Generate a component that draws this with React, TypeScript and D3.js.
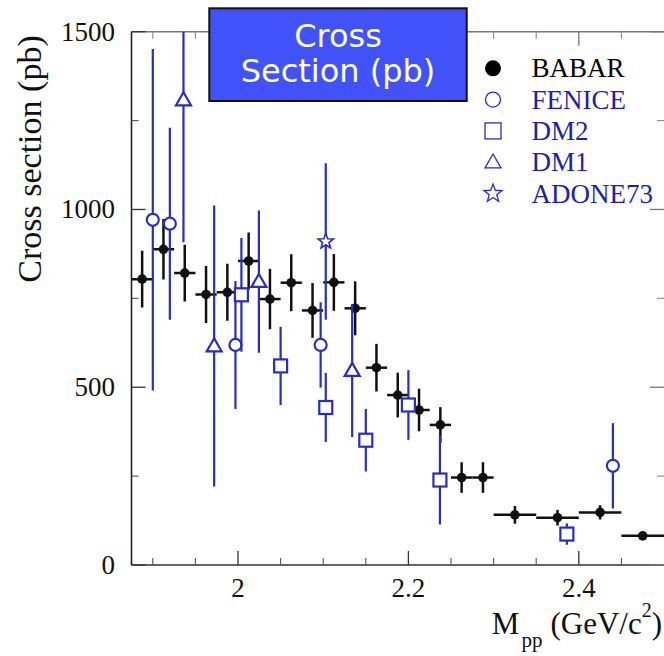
import React from "react";
import * as d3 from "d3";

// ---- data ----
const BABAR_X = [1.8875, 1.9125, 1.9375, 1.9625, 1.9875, 2.0125, 2.0375, 2.0625, 2.0875, 2.1125, 2.1375, 2.1625, 2.1875, 2.2125, 2.2375, 2.2625, 2.2875, 2.325, 2.375, 2.425, 2.475];
const BABAR_Y = [804, 888, 821, 761, 767, 855, 748, 794, 716, 795, 722, 555, 478, 436, 394, 246, 246, 141, 133, 148, 82];
const BABAR_ERR = [80, 85, 80, 80, 80, 80, 85, 80, 77, 80, 76, 67, 63, 60, 50, 43, 43, 25, 22, 20, 8];
const BABAR_XERR = [0.0125, 0.0125, 0.0125, 0.0125, 0.0125, 0.0125, 0.0125, 0.0125, 0.0125, 0.0125, 0.0125, 0.0125, 0.0125, 0.0125, 0.0125, 0.0125, 0.0125, 0.025, 0.025, 0.025, 0.025];

const FENICE_X = [1.9, 1.92, 1.997, 2.097, 2.44];
const FENICE_Y = [971, 960, 619, 619, 279];
const FENICE_ERR = [480, 270, 180, 120, 120];

const DM2_X = [2.004, 2.05, 2.103, 2.15, 2.2, 2.237, 2.386];
const DM2_Y = [760, 560, 443, 351, 450, 239, 87];
const DM2_ERR = [160, 110, 97, 88, 98, 125, 30];

const DM1_X = [1.936, 1.972, 2.0245, 2.134];
const DM1_Y = [1308, 616, 797, 547];
const DM1_ERR = [400, 395, 200, 187];

const ADONE_X = [2.103];
const ADONE_Y = [910];
const ADONE_ERR = [220];

const LEGEND_LABELS = ["BABAR", "FENICE", "DM2", "DM1", "ADONE73"];

const X_MAJOR = [2, 2.2, 2.4];
const X_MAJOR_LABELS = ["2", "2.2", "2.4"];
const X_MINOR = [1.9, 1.95, 2.05, 2.1, 2.15, 2.25, 2.3, 2.35, 2.45];
const Y_MAJOR = [0, 500, 1000, 1500];
const Y_MAJOR_LABELS = ["0", "500", "1000", "1500"];
const Y_MINOR = [250, 750, 1250];

const BLUE = "#2b2bc6";
const BLUE_TEXT = "#1f1fae";
const SERIF = "'Liberation Serif', 'Times New Roman', serif";

function starPath(cx: number, cy: number, ro: number) {
  const ri = ro * 0.42;
  const pts: string[] = [];
  for (let i = 0; i < 10; i++) {
    const r = i % 2 === 0 ? ro : ri;
    const a = -Math.PI / 2 + (i * Math.PI) / 5;
    pts.push(`${cx + r * Math.cos(a)},${cy + r * Math.sin(a)}`);
  }
  return "M" + pts.join("L") + "Z";
}

function triPath(cx: number, cy: number, side: number) {
  const h = (side * Math.sqrt(3)) / 2;
  return `M${cx},${cy - (2 * h) / 3}L${cx + side / 2},${cy + h / 3}L${cx - side / 2},${cy + h / 3}Z`;
}

type Shape = "circle" | "square" | "triangle" | "star";

function Marker({ shape, cx, cy, size, stroke, sw }: { shape: Shape; cx: number; cy: number; size: number; stroke: string; sw: number }) {
  if (shape === "circle") return <circle cx={cx} cy={cy} r={size / 2} fill="white" stroke={stroke} strokeWidth={sw} />;
  if (shape === "square") return <rect x={cx - size / 2} y={cy - size / 2} width={size} height={size} fill="white" stroke={stroke} strokeWidth={sw} />;
  if (shape === "triangle") return <path d={triPath(cx, cy + 1, size)} fill="white" stroke={stroke} strokeWidth={sw} />;
  return <path d={starPath(cx, cy, size / 2)} fill="white" stroke={stroke} strokeWidth={sw} />;
}

export default function App() {
  const W = 664;
  const H = 656;
  const L = 131.5, R = 664, T = 31.7, B = 565;
  const x = d3.scaleLinear().domain([1.875, 2.5]).range([L, R]);
  const y = d3.scaleLinear().domain([0, 1500]).range([B, T]);

  const blueSeries: { xs: number[]; ys: number[]; es: number[]; shape: Shape; size: number }[] = [
    { xs: FENICE_X, ys: FENICE_Y, es: FENICE_ERR, shape: "circle", size: 12 },
    { xs: DM2_X, ys: DM2_Y, es: DM2_ERR, shape: "square", size: 13 },
    { xs: DM1_X, ys: DM1_Y, es: DM1_ERR, shape: "triangle", size: 15 },
    { xs: ADONE_X, ys: ADONE_Y, es: ADONE_ERR, shape: "star", size: 16 },
  ];

  const legendShapes: (Shape | "dot")[] = ["dot", "circle", "square", "triangle", "star"];
  const legendY = [68.3, 99.6, 130.9, 162.2, 193.5];

  return (
    <svg width={W} height={H} style={{ position: "absolute", left: 0, top: 0, background: "white" }}>
      <defs>
        <clipPath id="plotclip">
          <rect x={L} y={T} width={R - L} height={B - T} />
        </clipPath>
      </defs>
      <rect x={0} y={0} width={W} height={H} fill="white" />

      {/* frame */}
      <line x1={L} y1={T} x2={L} y2={B} stroke="#222" strokeWidth={1.6} />
      <line x1={L} y1={B} x2={R} y2={B} stroke="#333" strokeWidth={1.6} />
      <line x1={L} y1={T} x2={R} y2={T} stroke="#777" strokeWidth={1.6} />

      {/* x ticks bottom & top */}
      {X_MAJOR.map((v) => (
        <g key={"xm" + v}>
          <line x1={x(v)} x2={x(v)} y1={B} y2={B - 14} stroke="#333" strokeWidth={1.3} />
          <line x1={x(v)} x2={x(v)} y1={T} y2={T + 14} stroke="#777" strokeWidth={1.3} />
        </g>
      ))}
      {X_MINOR.map((v) => (
        <g key={"xn" + v}>
          <line x1={x(v)} x2={x(v)} y1={B} y2={B - 7} stroke="#555" strokeWidth={1.1} />
          <line x1={x(v)} x2={x(v)} y1={T} y2={T + 7} stroke="#888" strokeWidth={1.1} />
        </g>
      ))}
      {/* y ticks left & right */}
      {Y_MAJOR.map((v) => (
        <g key={"ym" + v}>
          <line x1={L} x2={L + 14} y1={y(v)} y2={y(v)} stroke="#333" strokeWidth={1.3} />
          <line x1={R} x2={R - 14} y1={y(v)} y2={y(v)} stroke="#777" strokeWidth={1.3} />
        </g>
      ))}
      {Y_MINOR.map((v) => (
        <g key={"yn" + v}>
          <line x1={L} x2={L + 7} y1={y(v)} y2={y(v)} stroke="#555" strokeWidth={1.1} />
          <line x1={R} x2={R - 7} y1={y(v)} y2={y(v)} stroke="#888" strokeWidth={1.1} />
        </g>
      ))}

      {/* tick labels */}
      {X_MAJOR.map((v, i) => (
        <text key={"xl" + v} x={x(v)} y={597} textAnchor="middle" fontFamily={SERIF} fontSize={27} fill="#111">
          {X_MAJOR_LABELS[i]}
        </text>
      ))}
      {Y_MAJOR.map((v, i) => (
        <text key={"yl" + v} x={115} y={y(v) + 9} textAnchor="end" fontFamily={SERIF} fontSize={27} fill="#111">
          {Y_MAJOR_LABELS[i]}
        </text>
      ))}

      {/* axis titles */}
      <text transform="translate(41,159) rotate(-90)" textAnchor="middle" fontFamily={SERIF} fontSize={34} fill="#111">
        Cross section (pb)
      </text>
      <text x={662} y={634} textAnchor="end" fontFamily={SERIF} fontSize={31} fill="#111">
        M
        <tspan fontSize={21} dy={13} dx={2}>pp</tspan>
        <tspan fontSize={31} dy={-13} dx={8}>(GeV/c</tspan>
        <tspan fontSize={20} dy={-17}>2</tspan>
        <tspan fontSize={31} dy={17}>)</tspan>
      </text>

      {/* data */}
      <g clipPath="url(#plotclip)">
        {BABAR_X.map((xv, i) => (
          <g key={"b" + i}>
            <line x1={x(xv - BABAR_XERR[i])} x2={x(xv + BABAR_XERR[i])} y1={y(BABAR_Y[i])} y2={y(BABAR_Y[i])} stroke="#111" strokeWidth={2.5} />
            <line x1={x(xv)} x2={x(xv)} y1={y(BABAR_Y[i] - BABAR_ERR[i])} y2={y(BABAR_Y[i] + BABAR_ERR[i])} stroke="#111" strokeWidth={2.5} />
            <circle cx={x(xv)} cy={y(BABAR_Y[i])} r={4.8} fill="#111" />
          </g>
        ))}
        {blueSeries.map((s, si) =>
          s.xs.map((xv, i) => (
            <g key={"s" + si + "-" + i}>
              <line x1={x(xv)} x2={x(xv)} y1={y(s.ys[i] - s.es[i])} y2={y(s.ys[i] + s.es[i])} stroke={BLUE} strokeWidth={2.2} />
              <Marker shape={s.shape} cx={x(xv)} cy={y(s.ys[i])} size={s.size} stroke={BLUE} sw={s.shape === "star" ? 1.6 : 2.2} />
            </g>
          ))
        )}
      </g>

      {/* title box */}
      <rect x={209.3} y={8.3} width={257.4} height={92.7} fill="#4152fa" stroke="#111" strokeWidth={2} />
      <text x={338} y={47} textAnchor="middle" fontFamily="'DejaVu Sans', Verdana, sans-serif" fontSize={32} fill="white">
        Cross
      </text>
      <text x={338} y={82} textAnchor="middle" fontFamily="'DejaVu Sans', Verdana, sans-serif" fontSize={32} fill="white">
        Section (pb)
      </text>

      {/* legend */}
      {LEGEND_LABELS.map((lab, i) => {
        const sh = legendShapes[i];
        const cy = legendY[i];
        const cx = 493;
        return (
          <g key={"lg" + lab}>
            {sh === "dot" ? (
              <circle cx={cx} cy={cy} r={8} fill="#000" />
            ) : (
              <Marker shape={sh} cx={cx} cy={cy} size={sh === "circle" ? 15 : sh === "star" ? 19 : 16} stroke={BLUE} sw={1.3} />
            )}
            <text x={531.5} y={cy + 9} fontFamily={SERIF} fontSize={27} fill={i === 0 ? "#000" : BLUE_TEXT}>
              {lab}
            </text>
          </g>
        );
      })}
    </svg>
  );
}
